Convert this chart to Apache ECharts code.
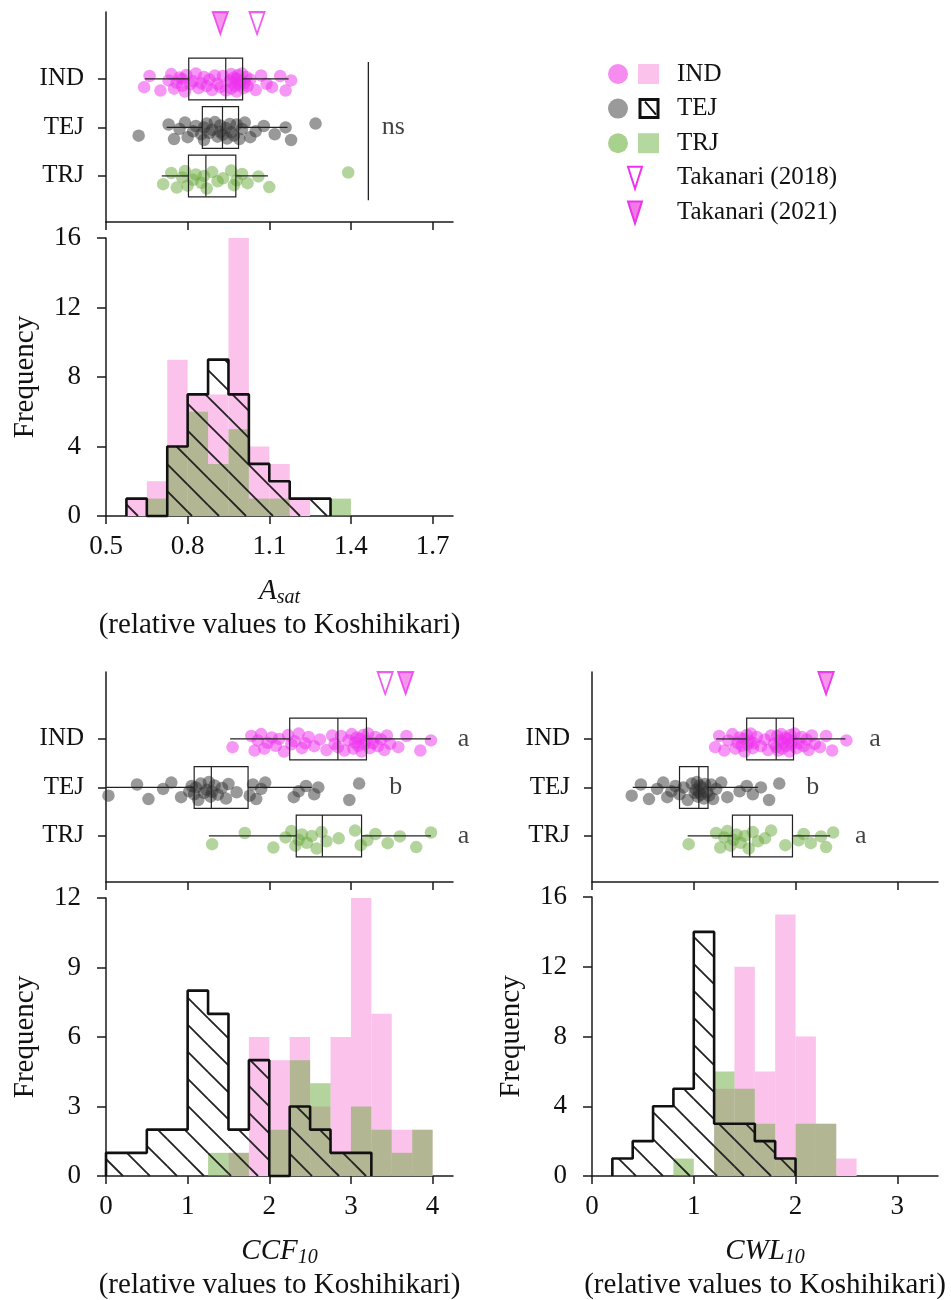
<!DOCTYPE html>
<html>
<head>
<meta charset="utf-8">
<script src="https://cdn.jsdelivr.net/npm/echarts@6.0.0/dist/echarts.min.js"></script>
<style>
  html, body { margin: 0; padding: 0; background: #fff; }
  #chart { width: 951px; height: 1300px; }
</style>
</head>
<body>
<div id="chart"></div>
<script>
// groups, top to bottom in the strip plots
var groups = ['IND', 'TEJ', 'TRJ']

// A_sat, single lines (relative to Koshihikari)
var asatIND = [0.64, 0.66, 0.70, 0.73, 0.74, 0.75, 0.76, 0.77, 0.78, 0.78, 0.79, 0.795,
  0.81, 0.82, 0.83, 0.84, 0.85, 0.86, 0.87, 0.88, 0.89, 0.90, 0.91, 0.92, 0.93, 0.94,
  0.955, 0.96, 0.96, 0.965, 0.97, 0.975, 0.98, 0.98, 0.985, 0.99, 0.995, 1.0, 1.005, 1.01, 1.015, 1.02,
  1.03, 1.05, 1.07, 1.09, 1.11, 1.14, 1.16, 1.18]
var asatTEJ = [0.62, 0.73, 0.75, 0.77, 0.79, 0.80, 0.82, 0.83, 0.85, 0.86, 0.86, 0.87,
  0.88, 0.89, 0.90, 0.91, 0.92, 0.92, 0.93, 0.94, 0.945, 0.955, 0.96, 0.97, 0.98, 0.99, 1.0, 1.01,
  1.03, 1.05, 1.08, 1.12, 1.16, 1.18, 1.27]
var asatTRJ = [0.71, 0.74, 0.76, 0.78, 0.79, 0.80, 0.82, 0.83, 0.85, 0.86, 0.87,
  0.89, 0.91, 0.93, 0.96, 0.97, 0.98, 1.0, 1.02, 1.06, 1.10, 1.39]

// CCF10
var ccfIND = [1.55, 1.78, 1.82, 1.86, 1.9, 1.94, 1.98, 2.03, 2.08, 2.12, 2.18, 2.23,
  2.27, 2.31, 2.36, 2.4, 2.44, 2.48, 2.55, 2.62, 2.7, 2.77, 2.8, 2.84, 2.88, 2.92, 2.97,
  3.01, 3.03, 3.05, 3.07, 3.09, 3.11, 3.13, 3.15, 3.17, 3.19, 3.21, 3.23,
  3.27, 3.3, 3.33, 3.37, 3.41, 3.44, 3.48, 3.58, 3.68, 3.85, 3.98]
var ccfTEJ = [0.03, 0.38, 0.52, 0.7, 0.8, 0.92, 1.02, 1.05, 1.08, 1.1, 1.13, 1.16, 1.2, 1.23,
  1.26, 1.28, 1.3, 1.33, 1.37, 1.42, 1.47, 1.5, 1.6, 1.76, 1.8, 1.84, 1.9, 1.95,
  2.3, 2.36, 2.45, 2.55, 2.6, 2.98, 3.1]
var ccfTRJ = [1.3, 1.7, 2.05, 2.2, 2.27, 2.32, 2.36, 2.4, 2.46, 2.52, 2.58, 2.64, 2.7,
  2.85, 3.05, 3.12, 3.2, 3.3, 3.45, 3.6, 3.8, 3.98]

// CWL10
var cwlIND = [1.21, 1.25, 1.3, 1.34, 1.38, 1.41, 1.43, 1.45, 1.47, 1.49, 1.5, 1.52, 1.53, 1.55, 1.56, 1.58, 1.59,
  1.62, 1.66, 1.7, 1.73, 1.76, 1.79, 1.81, 1.82, 1.83, 1.85, 1.86, 1.87, 1.88, 1.9, 1.91, 1.92, 1.94, 1.95, 1.96, 1.97, 1.99,
  2.01, 2.03, 2.06, 2.08, 2.11, 2.13, 2.16, 2.19, 2.24, 2.3, 2.36, 2.5]
var cwlTEJ = [0.39, 0.48, 0.56, 0.64, 0.7, 0.74, 0.78, 0.82, 0.86, 0.9, 0.94, 0.98,
  1.01, 1.02, 1.03, 1.04, 1.05, 1.06, 1.07, 1.08, 1.1, 1.11, 1.13, 1.15, 1.17, 1.19,
  1.22, 1.27, 1.33, 1.45, 1.52, 1.58, 1.66, 1.74, 1.84]
var cwlTRJ = [0.95, 1.22, 1.26, 1.3, 1.33, 1.36, 1.39, 1.42, 1.46, 1.5, 1.54, 1.58,
  1.63, 1.7, 1.76, 1.9, 2.03, 2.08, 2.15, 2.25, 2.3, 2.37]

// box stats: [min, Q1, median, Q3, max]
var asatBoxIND = [0.643, 0.804, 0.940, 1.002, 1.171]
var asatBoxTEJ = [0.723, 0.854, 0.928, 0.987, 1.167]
var asatBoxTRJ = [0.705, 0.803, 0.867, 0.977, 1.095]
var ccfBoxIND = [1.52, 2.25, 2.84, 3.19, 3.98]
var ccfBoxTEJ = [0.0, 1.08, 1.29, 1.74, 2.52]
var ccfBoxTRJ = [1.26, 2.33, 2.65, 3.13, 3.98]
var cwlBoxIND = [1.22, 1.52, 1.81, 1.98, 2.49]
var cwlBoxTEJ = [0.40, 0.86, 1.05, 1.14, 1.63]
var cwlBoxTRJ = [0.94, 1.38, 1.55, 1.97, 2.34]

// histogram counts, bins start at *BinStart with width *BinWidth
var asatBinStart = 0.575
var asatBinWidth = 0.075
var asatHistIND = [1, 2, 9, 7, 7, 16, 4, 3, 1, 0, 0]
var asatHistTEJ = [1, 0, 4, 7, 9, 7, 3, 2, 1, 1, 0]
var asatHistTRJ = [0, 1, 4, 6, 3, 5, 1, 1, 0, 0, 1]
var ccfBinStart = 0
var ccfBinWidth = 0.25
var ccfHistIND = [0, 0, 0, 0, 0, 0, 1, 6, 5, 6, 3, 6, 12, 7, 2, 2]
var ccfHistTEJ = [1, 1, 2, 2, 8, 7, 2, 5, 0, 3, 2, 1, 1, 0, 0, 0]
var ccfHistTRJ = [0, 0, 0, 0, 0, 1, 1, 0, 2, 5, 4, 1, 3, 2, 1, 2]
var cwlBinStart = 0.2
var cwlBinWidth = 0.2
var cwlHistIND = [0, 0, 0, 0, 0, 5, 12, 6, 15, 8, 3, 1]
var cwlHistTEJ = [1, 2, 4, 5, 14, 3, 3, 2, 1, 0, 0, 0]
var cwlHistTRJ = [0, 0, 0, 1, 0, 6, 5, 3, 1, 3, 3, 0]

// Takanari reference values: A_sat, CCF10, CWL10
var takanari2018 = [1.055, 3.42, 2.30]
var takanari2021 = [0.92, 3.67, 2.30]

// multiple comparison letters (IND, TEJ, TRJ)
var ccfLetters = ['a', 'b', 'a']
var cwlLetters = ['a', 'b', 'a']

// tick labels
var asatTicks = [0.5, 0.8, 1.1, 1.4, 1.7]
var ccfTicks = [0, 1, 2, 3, 4]
var cwlTicks = [0, 1, 2, 3]

// vertical jitter of the dots (fraction of row spacing, + is downwards)
var jitter = [0.17, -0.06, 0.24, 0.03, -0.1, 0.2, 0.08, -0.03, 0.14, 0.0, 0.26, -0.08,
  0.11, 0.05, -0.11, 0.19, 0.09, -0.04, 0.15, 0.01, 0.23, -0.07, 0.1]

var FONT = 'Liberation Serif'
var INK = '#1a1a1a'
var rowPos = {IND: 3, TEJ: 2, TRJ: 1}
var dotColor = {IND: '#EE30EE', TEJ: '#333333', TRJ: '#6AAA3C'}

function boxYAxis(grid) {
  return {
    type: 'value', gridIndex: grid, min: 0.05, max: 4.38,
    axisLine: {show: true, lineStyle: {color: INK, width: 1.5}},
    axisTick: {show: true, length: 8, customValues: [1, 2, 3], lineStyle: {color: INK, width: 1.5}},
    axisLabel: {
      customValues: [1, 2, 3], margin: 22, color: '#111', fontFamily: FONT, fontSize: 25,
      formatter: function (v) { return groups[3 - v] }
    },
    splitLine: {show: false}
  }
}

function boxXAxis(grid, min, max, ticks) {
  return {
    type: 'value', gridIndex: grid, min: min, max: max,
    axisLine: {show: true, onZero: false, lineStyle: {color: INK, width: 1.5}},
    axisTick: {show: true, length: 8, customValues: ticks, lineStyle: {color: INK, width: 1.5}},
    axisLabel: {show: false},
    splitLine: {show: false}
  }
}

function histXAxis(grid, min, max, ticks, digits, title, sub) {
  return {
    type: 'value', gridIndex: grid, min: min, max: max,
    axisLine: {show: true, onZero: false, lineStyle: {color: INK, width: 1.5}},
    axisTick: {show: true, length: 8, customValues: ticks, lineStyle: {color: INK, width: 1.5}},
    axisLabel: {
      customValues: ticks, margin: 17, color: '#111', fontFamily: FONT, fontSize: 27,
      formatter: function (v) { return v.toFixed(digits) }
    },
    splitLine: {show: false},
    name: '{it|' + title + '}{sub|' + sub + '}\n{n|(relative values to Koshihikari)}',
    nameLocation: 'middle',
    nameGap: 58,
    nameTextStyle: {
      rich: {
        it: {fontFamily: FONT, fontSize: 29, fontStyle: 'italic', color: '#111', lineHeight: 34},
        sub: {fontFamily: FONT, fontSize: 20, fontStyle: 'italic', color: '#111', lineHeight: 20, verticalAlign: 'bottom'},
        n: {fontFamily: FONT, fontSize: 29, color: '#111', lineHeight: 34}
      }
    }
  }
}

function histYAxis(grid, max, interval) {
  return {
    type: 'value', gridIndex: grid, min: 0, max: max, interval: interval,
    axisLine: {show: true, lineStyle: {color: INK, width: 1.5}},
    axisTick: {show: true, length: 9, lineStyle: {color: INK, width: 1.5}},
    axisLabel: {margin: 25, color: '#111', fontFamily: FONT, fontSize: 27},
    splitLine: {show: false},
    name: 'Frequency', nameLocation: 'middle', nameGap: 66,
    nameTextStyle: {fontFamily: FONT, fontSize: 29, color: '#111'}
  }
}

function histData(start, width, counts) {
  return counts.map(function (n, i) {
    return [start + i * width, start + (i + 1) * width, n]
  })
}

// stepped outline of the TEJ histogram
function outlineData(start, width, counts) {
  var first = 0
  while (counts[first] === 0) first++
  var last = counts.length - 1
  while (counts[last] === 0) last--
  var pts = [[start + first * width, 0]]
  for (var i = first; i <= last; i++) {
    pts.push([start + i * width, counts[i]], [start + (i + 1) * width, counts[i]])
  }
  pts.push([start + (last + 1) * width, 0])
  return pts
}

function barRect(api) {
  var n = api.value(2)
  if (!n) return null
  var p0 = api.coord([api.value(0), 0])
  var p1 = api.coord([api.value(1), n])
  return {x: p0[0], y: p1[1], width: p1[0] - p0[0], height: p0[1] - p1[1]}
}

function renderFill(fill) {
  return function (params, api) {
    var r = barRect(api)
    if (!r) return
    return {type: 'rect', shape: r, style: {fill: fill}}
  }
}

// diagonal "\" hatch, phase shared by all bars
function renderHatch(params, api) {
  var r = barRect(api)
  if (!r) return
  var s = 27
  var x0 = r.x, x1 = r.x + r.width, yt = r.y, yb = r.y + r.height
  var lines = []
  for (var k = Math.ceil((yt - x1) / s); k <= Math.floor((yb - x0) / s); k++) {
    var c = k * s
    var xa = Math.max(x0, yt - c)
    var xb = Math.min(x1, yb - c)
    if (xb - xa > 0.5) {
      lines.push({type: 'line', shape: {x1: xa, y1: xa + c, x2: xb, y2: xb + c},
        style: {stroke: '#222', lineWidth: 1.8}})
    }
  }
  return {type: 'group', children: lines}
}

function renderBox(params, api) {
  var y = api.value(0)
  var pLo = api.coord([api.value(1), y])
  var pQ1 = api.coord([api.value(2), y])
  var pMd = api.coord([api.value(3), y])
  var pQ3 = api.coord([api.value(4), y])
  var pHi = api.coord([api.value(5), y])
  var h = api.size([0, 0.86])[1]
  var yc = pQ1[1]
  var st = {stroke: '#222', lineWidth: 1.2, fill: null}
  return {
    type: 'group',
    children: [
      {type: 'line', shape: {x1: pLo[0], y1: yc, x2: pQ1[0], y2: yc}, style: st},
      {type: 'line', shape: {x1: pQ3[0], y1: yc, x2: pHi[0], y2: yc}, style: st},
      {type: 'rect', shape: {x: pQ1[0], y: yc - h / 2, width: pQ3[0] - pQ1[0], height: h}, style: st},
      {type: 'line', shape: {x1: pMd[0], y1: yc - h / 2, x2: pMd[0], y2: yc + h / 2}, style: st}
    ]
  }
}

var triangle = 'path://M0,0L20,0L10,29Z'

function textSeries(grid, items) {
  return {
    type: 'scatter', xAxisIndex: grid, yAxisIndex: grid, silent: true, clip: false,
    symbolSize: 1, itemStyle: {color: 'rgba(0,0,0,0)'}, z: 6,
    label: {show: true, position: 'inside', formatter: '{b}', color: '#111', fontFamily: FONT, fontSize: 26},
    data: items
  }
}

var series = []

function addPanel(boxGrid, histGrid, pts, boxes, t18, t21, bin) {
  groups.forEach(function (g, gi) {
    series.push({
      type: 'scatter', xAxisIndex: boxGrid, yAxisIndex: boxGrid, silent: true, z: 2,
      symbolSize: 12.5, itemStyle: {color: dotColor[g], opacity: 0.5},
      data: pts[gi].map(function (v, i) { return [v, rowPos[g] - jitter[i % jitter.length]] })
    })
  })
  series.push({
    type: 'custom', xAxisIndex: boxGrid, yAxisIndex: boxGrid, silent: true, z: 3,
    renderItem: renderBox,
    data: groups.map(function (g, gi) { return [rowPos[g]].concat(boxes[gi]) })
  })
  series.push({
    type: 'scatter', xAxisIndex: boxGrid, yAxisIndex: boxGrid, silent: true, z: 4,
    symbol: triangle, symbolSize: [15, 22],
    itemStyle: {color: '#fff', borderColor: '#EE33EE', borderWidth: 2},
    data: [[t18, 4.15]]
  })
  series.push({
    type: 'scatter', xAxisIndex: boxGrid, yAxisIndex: boxGrid, silent: true, z: 5,
    symbol: triangle, symbolSize: [15, 22],
    itemStyle: {color: '#F27AE6', borderColor: '#EE33EE', borderWidth: 2},
    data: [[t21, 4.15]]
  })

  series.push({
    type: 'custom', xAxisIndex: histGrid, yAxisIndex: histGrid, silent: true, z: 1,
    renderItem: renderFill('#FBC2EB'), data: histData(bin[0], bin[1], bin[2])
  })
  series.push({
    type: 'custom', xAxisIndex: histGrid, yAxisIndex: histGrid, silent: true, z: 2,
    renderItem: renderFill('rgba(106,170,60,0.5)'), data: histData(bin[0], bin[1], bin[4])
  })
  series.push({
    type: 'custom', xAxisIndex: histGrid, yAxisIndex: histGrid, silent: true, z: 3,
    renderItem: renderHatch, data: histData(bin[0], bin[1], bin[3])
  })
  series.push({
    type: 'line', xAxisIndex: histGrid, yAxisIndex: histGrid, silent: true, z: 4,
    showSymbol: false, symbol: 'none', clip: false,
    lineStyle: {color: '#111', width: 2.6}, data: outlineData(bin[0], bin[1], bin[3])
  })
}

addPanel(0, 1, [asatIND, asatTEJ, asatTRJ], [asatBoxIND, asatBoxTEJ, asatBoxTRJ],
  takanari2018[0], takanari2021[0], [asatBinStart, asatBinWidth, asatHistIND, asatHistTEJ, asatHistTRJ])
addPanel(2, 3, [ccfIND, ccfTEJ, ccfTRJ], [ccfBoxIND, ccfBoxTEJ, ccfBoxTRJ],
  takanari2018[1], takanari2021[1], [ccfBinStart, ccfBinWidth, ccfHistIND, ccfHistTEJ, ccfHistTRJ])
addPanel(4, 5, [cwlIND, cwlTEJ, cwlTRJ], [cwlBoxIND, cwlBoxTEJ, cwlBoxTRJ],
  takanari2018[2], takanari2021[2], [cwlBinStart, cwlBinWidth, cwlHistIND, cwlHistTEJ, cwlHistTRJ])

// "ns" bracket for A_sat
series.push({
  type: 'line', xAxisIndex: 0, yAxisIndex: 0, silent: true, showSymbol: false, symbol: 'none',
  lineStyle: {color: '#222', width: 1.3}, data: [[1.464, 3.35], [1.464, 0.5]]
})
series.push(textSeries(0, [{name: 'ns', value: [1.556, 2]}]))
series.push(textSeries(2, [
  {name: ccfLetters[0], value: [4.38, 3]}, {name: ccfLetters[1], value: [3.55, 2]}, {name: ccfLetters[2], value: [4.38, 1]}
]))
series.push(textSeries(4, [
  {name: cwlLetters[0], value: [2.78, 3]}, {name: cwlLetters[1], value: [2.17, 2]}, {name: cwlLetters[2], value: [2.64, 1]}
]))

// legend drawn by hand: circle (dots) + square (histogram)
var legendLabels = ['IND', 'TEJ', 'TRJ', 'Takanari (2018)', 'Takanari (2021)']
var legendCircle = ['#F68CF0', '#9A9A9A', '#A9D18E']
var legendSquare = ['#FBC2EB', '#fff', '#B5D7A0']
var graphic = []
legendLabels.forEach(function (label, i) {
  var y = 74 + i * 34.6
  graphic.push({type: 'text', x: 677, y: y, silent: true,
    style: {text: label, fill: '#111', font: '25px "' + FONT + '"', verticalAlign: 'middle'}})
  if (i < 3) {
    graphic.push({type: 'circle', silent: true, shape: {cx: 618, cy: y, r: 10}, style: {fill: legendCircle[i]}})
    if (i === 1) {
      graphic.push({type: 'rect', silent: true, shape: {x: 640, y: y - 9, width: 18, height: 18},
        style: {fill: '#fff', stroke: '#111', lineWidth: 3}})
      graphic.push({type: 'line', silent: true, shape: {x1: 645, y1: y - 7, x2: 656, y2: y + 6},
        style: {stroke: '#111', lineWidth: 2}})
    } else {
      graphic.push({type: 'rect', silent: true, shape: {x: 638, y: y - 10, width: 21, height: 20},
        style: {fill: legendSquare[i]}})
    }
  } else {
    graphic.push({type: 'polygon', silent: true,
      shape: {points: [[628, y - 11], [642, y - 11], [635, y + 11]]},
      style: {fill: i === 3 ? '#fff' : '#F27AE6', stroke: '#EE33EE', lineWidth: 2}})
  }
})

function grid(left, top, width, height) {
  return {left: left, top: top, width: width, height: height, containLabel: false, outerBoundsMode: 'none'}
}

var option = {
  animation: false,
  backgroundColor: '#fff',
  grid: [
    grid(106, 12, 347, 210),
    grid(106, 238, 347, 278),
    grid(106, 672, 347, 210),
    grid(106, 898, 347, 278),
    grid(592, 672, 346, 210),
    grid(592, 897, 346, 279)
  ],
  xAxis: [
    boxXAxis(0, 0.5, 1.775, asatTicks),
    histXAxis(1, 0.5, 1.775, asatTicks, 1, 'A', 'sat'),
    boxXAxis(2, 0, 4.25, ccfTicks),
    histXAxis(3, 0, 4.25, ccfTicks, 0, 'CCF', '10'),
    boxXAxis(4, 0, 3.4, cwlTicks),
    histXAxis(5, 0, 3.4, cwlTicks, 0, 'CWL', '10')
  ],
  yAxis: [
    boxYAxis(0),
    histYAxis(1, 16, 4),
    boxYAxis(2),
    histYAxis(3, 12, 3),
    boxYAxis(4),
    histYAxis(5, 16, 4)
  ],
  graphic: graphic,
  series: series
}

var myChart = echarts.init(document.getElementById('chart'), null, {renderer: 'canvas'})
myChart.setOption(option)
</script>
</body>
</html>
